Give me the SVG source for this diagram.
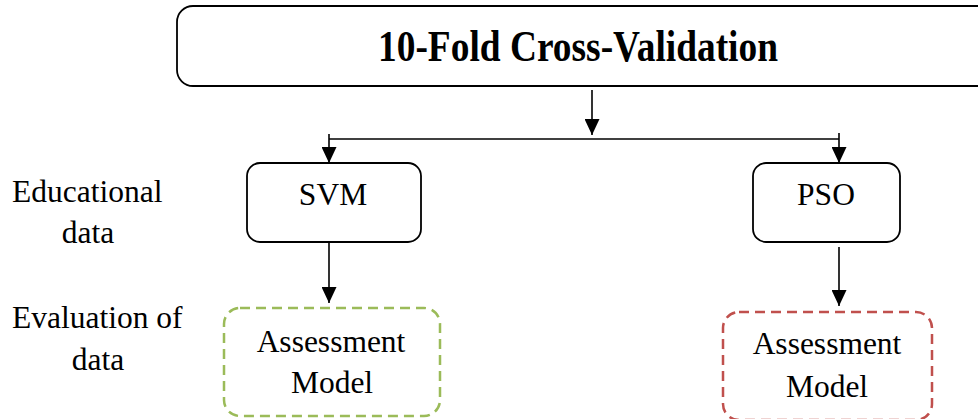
<svg xmlns="http://www.w3.org/2000/svg" width="978" height="419" viewBox="0 0 978 419">
<defs>
<style>
.box{fill:#fff;stroke:#000;stroke-width:1.8}
.ln{fill:none;stroke:#000;stroke-width:1.6}
.t{font-family:"Liberation Serif","Times New Roman",serif;font-size:31.5px;fill:#000}
.c{text-anchor:middle}
.title{font-family:"Liberation Serif","Times New Roman",serif;font-weight:bold;font-size:44px;fill:#000;text-anchor:middle}
.green{fill:#fff;stroke:#9bbb59;stroke-width:2.5;stroke-dasharray:10 6}
.red{fill:#fff;stroke:#c0504d;stroke-width:2.5;stroke-dasharray:10 6}
</style>
<marker id="ah" viewBox="0 0 16 15" refX="16" refY="7.5" markerWidth="16" markerHeight="15" markerUnits="userSpaceOnUse" orient="auto">
<path d="M0,0 L16,7.5 L0,15 Z" fill="#000"/>
</marker>
</defs>
<rect width="978" height="419" fill="#fff"/>
<g id="connectors">
<line class="ln" x1="592" y1="90" x2="592" y2="135" marker-end="url(#ah)"/>
<line class="ln" x1="329" y1="139" x2="839" y2="139"/>
<line class="ln" x1="329" y1="134" x2="329" y2="163" marker-end="url(#ah)"/>
<line class="ln" x1="839" y1="133" x2="839" y2="163" marker-end="url(#ah)"/>
<line class="ln" x1="329" y1="242" x2="329" y2="303" marker-end="url(#ah)"/>
<line class="ln" x1="839" y1="247" x2="839" y2="306" marker-end="url(#ah)"/>
</g>
<g id="cross-validation">
<rect class="box" x="177" y="6" width="830" height="80" rx="16"/>
<text class="title" x="578" y="60.5" textLength="400" lengthAdjust="spacingAndGlyphs">10-Fold Cross-Validation</text>
</g>
<g id="svm">
<rect class="box" x="247" y="163" width="174" height="79" rx="13"/>
<text class="t c" x="333" y="205">SVM</text>
</g>
<g id="pso">
<rect class="box" x="753" y="163" width="147" height="79" rx="13"/>
<text class="t c" x="826" y="205">PSO</text>
</g>
<g id="assessment-svm">
<rect class="green" x="224" y="308" width="216" height="108" rx="16"/>
<text class="t c" x="331" y="352">Assessment</text>
<text class="t c" x="332" y="393">Model</text>
</g>
<g id="assessment-pso">
<rect class="red" x="723" y="312" width="209" height="108" rx="16"/>
<text class="t c" x="827" y="354">Assessment</text>
<text class="t c" x="827" y="397">Model</text>
</g>
<g id="labels">
<text class="t" x="12" y="202">Educational</text>
<text class="t c" x="88" y="243">data</text>
<text class="t" x="12" y="328">Evaluation of</text>
<text class="t c" x="98" y="370">data</text>
</g>
</svg>
